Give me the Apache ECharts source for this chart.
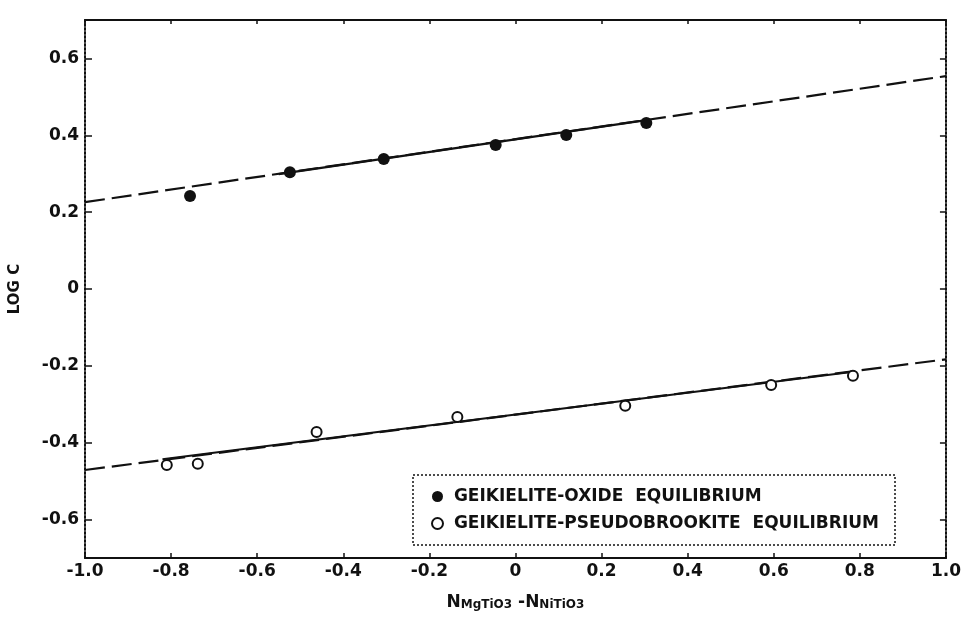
<!DOCTYPE html>
<html>
<head>
<meta charset="utf-8">
<title>LOG C vs NMgTiO3 - NNiTiO3</title>
<script src="https://cdn.jsdelivr.net/npm/echarts@6/dist/echarts.min.js"></script>
<style>
  html, body {margin: 0; padding: 0; background: #fff;}
  #chart {width: 964px; height: 617px;}
</style>
</head>
<body>
<div id="chart"></div>
<script>
// geikielite-oxide equilibrium (filled dots)
const oxideX = [-0.756, -0.524, -0.306, -0.046, 0.118, 0.304];
const oxideY = [0.242, 0.304, 0.338, 0.375, 0.401, 0.432];
// geikielite-pseudobrookite equilibrium (open dots)
const pseudoX = [-0.81, -0.738, -0.462, -0.135, 0.255, 0.594, 0.784];
const pseudoY = [-0.458, -0.455, -0.372, -0.333, -0.304, -0.250, -0.226];

// fitted lines: dashed over the whole range, solid over the measured span
const oxideDashX = [-1.0, 1.0];
const oxideDashY = [0.226, 0.554];
const oxideSolidX = [-0.55, 0.30];
const oxideSolidY = [0.299, 0.439];
const pseudoDashX = [-1.0, 1.0];
const pseudoDashY = [-0.471, -0.183];
const pseudoSolidX = [-0.82, 0.78];
const pseudoSolidY = [-0.443, -0.216];

const yTicks = [-0.6, -0.4, -0.2, 0, 0.2, 0.4, 0.6];

const nameOxide = 'GEIKIELITE-OXIDE  EQUILIBRIUM';
const namePseudo = 'GEIKIELITE-PSEUDOBROOKITE  EQUILIBRIUM';

const font = 'DejaVu Sans';
const ink = '#111';

function pairs(xs, ys) {
  return xs.map((x, i) => [x, ys[i]]);
}
function fmt(v) {
  return Math.abs(v) < 1e-9 ? '0' : v.toFixed(1);
}

const chart = echarts.init(document.getElementById('chart'));

const option = {
  animation: false,
  backgroundColor: '#fff',
  grid: {left: 84, right: 18, top: 20, bottom: 59},
  legend: {
    orient: 'vertical',
    left: 426,
    top: 483,
    itemGap: 10,
    itemWidth: 11,
    itemHeight: 11,
    selectedMode: false,
    z: 10,
    data: [
      {name: nameOxide, icon: 'circle'},
      {name: namePseudo, icon: 'emptyCircle'}
    ],
    formatter: n => ' ' + n,
    textStyle: {fontFamily: font, fontSize: 17, fontWeight: 'bold', color: ink}
  },
  graphic: [{
    type: 'rect',
    shape: {x: 413, y: 475, width: 482, height: 70},
    style: {fill: '#fff', stroke: ink, lineWidth: 1.5, lineDash: [2, 2]},
    z: 9
  }],
  xAxis: [
    {
      type: 'value', position: 'bottom', min: -1, max: 1, interval: 0.2,
      axisLine: {onZero: false, lineStyle: {color: ink, width: 2}},
      axisTick: {inside: true, length: 5, lineStyle: {color: ink, width: 1.5}},
      axisLabel: {formatter: fmt, margin: 5, fontFamily: font, fontSize: 17, fontWeight: 'bold', color: ink},
      splitLine: {show: false},
      name: '{n|N}{s|MgTiO}{t|3}{n| -N}{s|NiTiO}{t|3}',
      nameLocation: 'middle',
      nameGap: 36,
      nameTextStyle: {
        color: ink,
        rich: {
          n: {fontFamily: font, fontSize: 17, fontWeight: 'bold', color: ink, lineHeight: 17, verticalAlign: 'top'},
          s: {fontFamily: font, fontSize: 12, fontWeight: 'bold', color: ink, lineHeight: 12, padding: [9, 0, 0, 0], verticalAlign: 'bottom'},
          t: {fontFamily: font, fontSize: 12, fontWeight: 'bold', color: ink, lineHeight: 12, padding: [11, 0, 0, 0], verticalAlign: 'bottom'}
        }
      }
    },
    {
      type: 'value', position: 'top', min: -1, max: 1, interval: 0.2,
      axisLine: {onZero: false, lineStyle: {color: ink, width: 2}},
      axisTick: {inside: true, length: 4, lineStyle: {color: ink, width: 1.5}},
      axisLabel: {show: false},
      splitLine: {show: false}
    }
  ],
  yAxis: [
    {
      type: 'value', position: 'left', min: -0.7, max: 0.7,
      axisLine: {onZero: false, lineStyle: {color: ink, width: 2, type: 'dotted'}},
      axisTick: {inside: true, length: 7, customValues: yTicks, lineStyle: {color: ink, width: 1.5}},
      axisLabel: {customValues: yTicks, formatter: fmt, margin: 6, fontFamily: font, fontSize: 17, fontWeight: 'bold', color: ink},
      splitLine: {show: false},
      name: 'LOG C',
      nameLocation: 'middle',
      nameGap: 62,
      nameTextStyle: {fontFamily: font, fontSize: 15, fontWeight: 'bold', color: ink}
    },
    {
      type: 'value', position: 'right', min: -0.7, max: 0.7,
      axisLine: {onZero: false, lineStyle: {color: ink, width: 2, type: 'dotted'}},
      axisTick: {inside: true, length: 6, customValues: yTicks, lineStyle: {color: ink, width: 1.5}},
      axisLabel: {show: false},
      splitLine: {show: false}
    }
  ],
  series: [
    {
      name: 'oxide fit dashed', type: 'line', data: pairs(oxideDashX, oxideDashY),
      showSymbol: false, silent: true, z: 2,
      lineStyle: {color: ink, width: 2.2, type: [20, 7]}
    },
    {
      name: 'oxide fit', type: 'line', data: pairs(oxideSolidX, oxideSolidY),
      showSymbol: false, silent: true, z: 3,
      lineStyle: {color: ink, width: 2.2}
    },
    {
      name: 'pseudo fit dashed', type: 'line', data: pairs(pseudoDashX, pseudoDashY),
      showSymbol: false, silent: true, z: 2,
      lineStyle: {color: ink, width: 2.2, type: [20, 7]}
    },
    {
      name: 'pseudo fit', type: 'line', data: pairs(pseudoSolidX, pseudoSolidY),
      showSymbol: false, silent: true, z: 3,
      lineStyle: {color: ink, width: 2.2}
    },
    {
      name: nameOxide, type: 'scatter', data: pairs(oxideX, oxideY),
      symbol: 'circle', symbolSize: 12, z: 4,
      itemStyle: {color: ink, opacity: 1}
    },
    {
      name: namePseudo, type: 'scatter', data: pairs(pseudoX, pseudoY),
      symbol: 'emptyCircle', symbolSize: 10, z: 4,
      itemStyle: {color: ink, borderColor: ink, borderWidth: 2.2, opacity: 1}
    }
  ]
};

chart.setOption(option);
</script>
</body>
</html>
